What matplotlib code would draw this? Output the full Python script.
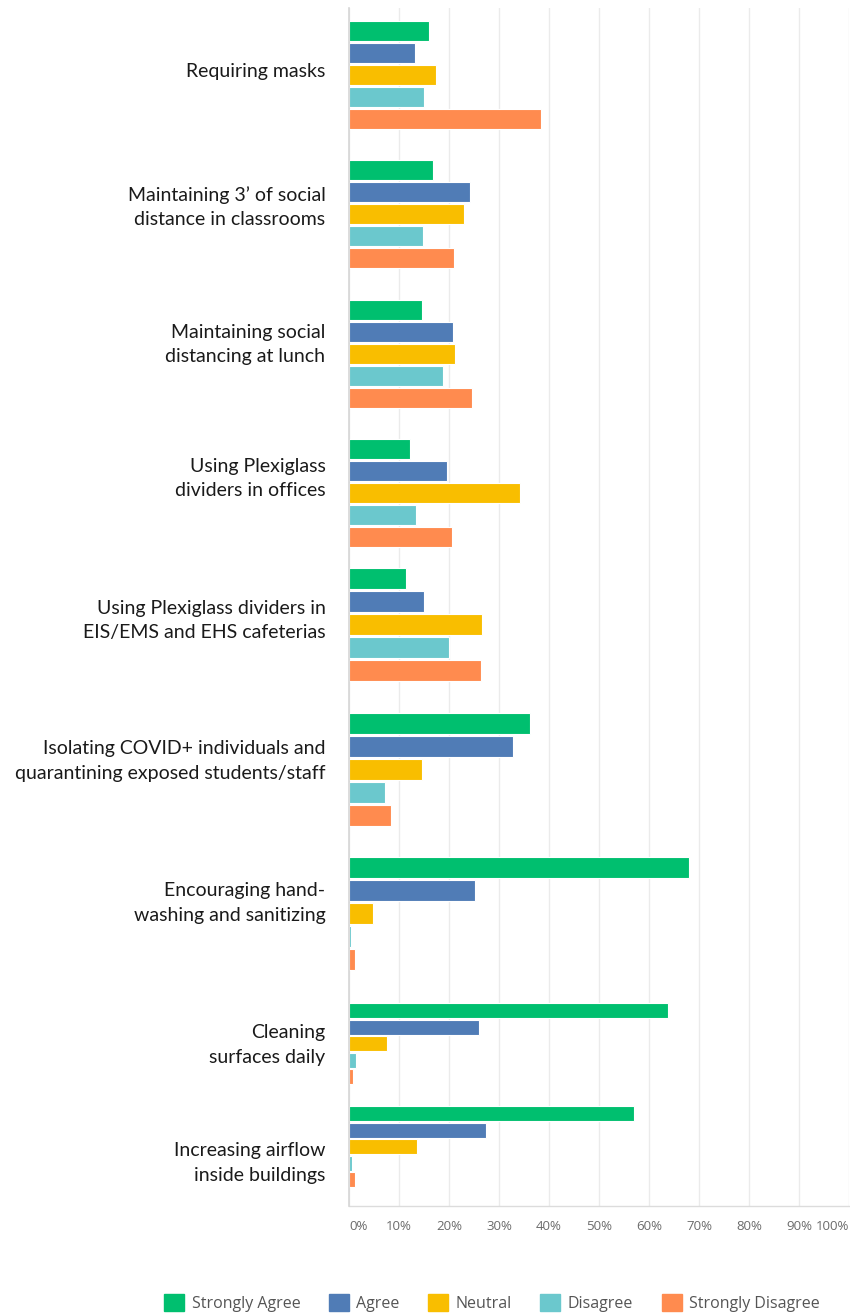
import matplotlib
matplotlib.use("Agg")
import matplotlib.pyplot as plt
from matplotlib.patches import Patch

# survey items (top to bottom)
items = [
    "Requiring masks",
    "Maintaining 3\u2019 of social\ndistance in classrooms",
    "Maintaining social\ndistancing at lunch",
    "Using Plexiglass\ndividers in offices",
    "Using Plexiglass dividers in\nEIS/EMS and EHS cafeterias",
    "Isolating COVID+ individuals and\nquarantining exposed students/staff",
    "Encouraging hand-\nwashing and sanitizing",
    "Cleaning\nsurfaces daily",
    "Increasing airflow\ninside buildings",
]
responses = ["Strongly Agree", "Agree", "Neutral", "Disagree", "Strongly Disagree"]

# percent of respondents, one list per response
strongly_agree = [15.9, 16.7, 14.6, 12.1, 11.3, 36.2, 67.9, 63.8, 56.9]
agree = [13.1, 24.1, 20.7, 19.6, 14.9, 32.7, 25.1, 25.9, 27.3]
neutral = [17.3, 22.9, 21.1, 34.1, 26.6, 14.6, 4.7, 7.6, 13.5]
disagree = [15.0, 14.8, 18.8, 13.3, 19.9, 7.1, 0.3, 1.3, 0.5]
strongly_disagree = [38.3, 20.9, 24.6, 20.6, 26.4, 8.4, 1.1, 0.7, 1.1]

xticks = list(range(0, 101, 10))
xtick_labels = [f"{t}%" for t in xticks]

colors = ["#00BF6F", "#507CB6", "#F9BE00", "#6BC8CD", "#FF8B4F"]

# layout (pixel-like units from the top of the plot area)
group_y = [75, 214, 353.5, 492.5, 624.5, 769, 913, 1043.5, 1146.5]
pitch = [22, 22, 22, 22, 23, 23, 23, 16.5, 16.5]
label_shift = [-3, -7, -9, -14, -4, -8, -10, 1.5, 16.5]

W, H = 850, 1314
fig = plt.figure(figsize=(W / 100, H / 100), dpi=100)
ax = fig.add_axes([349 / W, (H - 1206) / H, 500 / W, (1206 - 8) / H])

series = [strongly_agree, agree, neutral, disagree, strongly_disagree]
for k, vals in enumerate(series):
    ys = [gy + (k - 2) * p for gy, p in zip(group_y, pitch)]
    hs = [p - 2 if p > 20 else p - 1.5 for p in pitch]
    ax.barh(ys, vals, height=hs, color=colors[k], edgecolor="white",
            linewidth=0.8, zorder=3)

for lab, gy, sh in zip(items, group_y, label_shift):
    ax.annotate(lab, xy=(0, gy + sh), xytext=(-17, 0), textcoords="offset points",
                ha="right", va="center", fontsize=14, family="Lato",
                color="#1a1a1a", linespacing=1.55, annotation_clip=False)

ax.set_xlim(0, 100)
ax.set_ylim(1206, 8)
ax.set_xticks(xticks)
ax.set_xticklabels(xtick_labels, fontsize=9.5, color="#6b6b6b", family="Open Sans")
ax.set_yticks([])
ax.tick_params(axis="x", length=0, pad=10)
ax.grid(axis="x", color="#ebebeb", linewidth=1, zorder=0)
for s in ["top", "right"]:
    ax.spines[s].set_visible(False)
ax.spines["left"].set_color("#d6d6d6")
ax.spines["left"].set_linewidth(1.2)
ax.spines["left"].set_zorder(4)
ax.spines["bottom"].set_color("#dcdcdc")
ax.spines["bottom"].set_linewidth(1)
ax.set_axisbelow(True)

tl = ax.get_xticklabels()
tl[0].set_ha("left")
tl[-1].set_ha("right")

handles = [Patch(facecolor=c, edgecolor=c, label=r) for c, r in zip(colors, responses)]
fig.legend(handles=handles, loc="center", bbox_to_anchor=(492 / W, 11 / H),
           ncol=5, frameon=False, handlelength=1.25, handleheight=1.25,
           handletextpad=0.45, columnspacing=1.8, labelcolor="#555555",
           prop={"family": "Open Sans", "size": 11.5})

fig.savefig("out.png", dpi=100)
